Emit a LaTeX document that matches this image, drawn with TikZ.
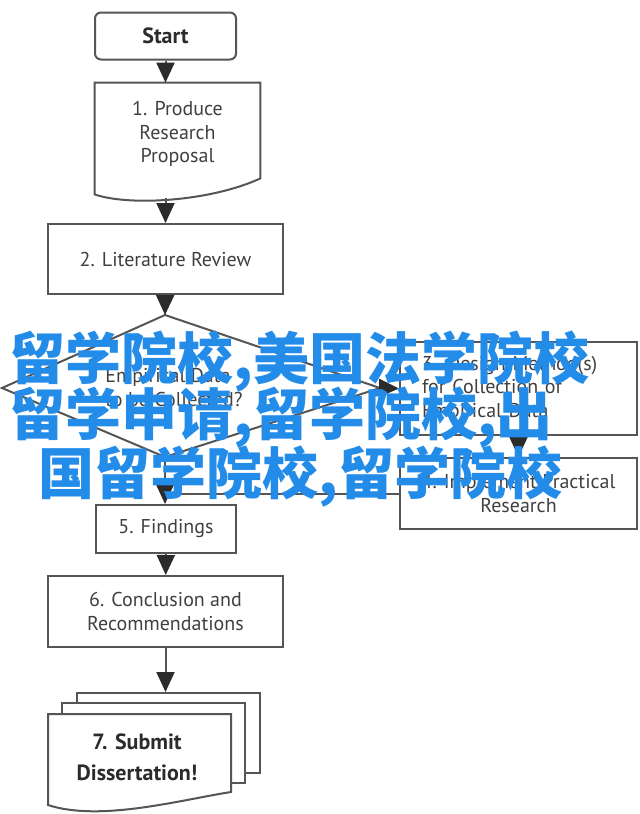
\documentclass[tikz,border=0pt]{standalone}
\usepackage{fontspec}
\setmainfont{PT Sans}
\newfontfamily\cjkfont{Noto Sans CJK SC}
\usetikzlibrary{arrows.meta,calc}
\definecolor{lncol}{HTML}{555555}
\definecolor{tipcol}{HTML}{2B2B2B}
\definecolor{txtcol}{HTML}{404040}
\definecolor{wmblue}{HTML}{238CE8}

\begin{document}
\begin{tikzpicture}[x=0.5pt, y=-0.5pt,
  every node/.style={font=\fontsize{10}{11.8}\selectfont, text=txtcol},
  proc/.style={draw=lncol, line width=1pt, rectangle, align=center, inner sep=3pt},
  se/.style={proc, rounded corners=3pt, text=tipcol,
             font=\bfseries\fontsize{11}{13}\selectfont},
  doc/.style={rectangle, align=center, inner sep=3pt},
  sheet/.style={draw=lncol, line width=1pt, fill=white, rectangle,
                minimum width=91.5pt, minimum height=40pt},
  ln/.style={draw=lncol, line width=1pt},
  ar/.style={ln, -{Triangle[width=9pt,length=10pt,color=tipcol]}},
  wm/.style={anchor=base west, inner sep=0pt, text=wmblue,
             font=\cjkfont\bfseries\fontsize{28}{30}\selectfont}]

\fill[white] (0,0) rectangle (640,814);
\useasboundingbox (0,0) rectangle (640,814);

%% --- left column ---
\node[se]   (STA) at (165.5, 36)  [minimum width=70.5pt, minimum height=23.5pt] {Start};
\node[doc]  (PRO) at (177.5,134)  [minimum width=82.5pt, minimum height=51pt] {1. Produce\\Research\\Proposal};
\draw[ln] ([yshift=-4.5pt]PRO.south west) |- (PRO.north east) -- ([yshift=3.5pt]PRO.south east)
  .. controls +(-25pt,-11.5pt) and +(17.5pt,-6pt) .. ([yshift=-4.5pt]PRO.south west) -- cycle;
\coordinate (PROB) at (165.5,198);
\node[proc] (LIT) at (165.5,259)  [minimum width=117.5pt, minimum height=35pt] {2. Literature Review};

%% --- decision (drawn directly) ---
\coordinate (DT) at (165,315);
\coordinate (DL) at (2,388);
\coordinate (DB) at (165,457);
\coordinate (DR) at (380,388);
\draw[ln] (DT) -- (DR) -- (DB) -- (DL) -- cycle;
\node[doc, align=left, anchor=west] (DEC) at (99,387.5) {Empirical Data\\to be Collected?};

%% --- right column ---
\node[proc, align=left, text width=96.5pt] (DES) at (518.5,388.5)
  [minimum width=118.5pt, minimum height=46.5pt] {3. Design Method(s)\\for Collection of\\Empirical Data};
\node[proc] (IMP) at (518.5,493.5) [minimum width=118.5pt, minimum height=35.5pt] {4. Implement Practical\\Research};

%% --- lower column ---
\node[proc] (FND) at (166,529)    [minimum width=70pt, minimum height=24pt] {5. Findings};
\node[proc] (CON) at (165.5,611.5) [minimum width=117.5pt, minimum height=35.5pt] {6. Conclusion and\\Recommendations};
\node[sheet] (SH3) at (168.5,733) {};
\node[sheet] (SH2) at (153.5,743) {};
\draw[ln, fill=white] (48,805) |- (231,714) -- (231,792)
  .. controls (180,800) and (100,822) .. (48,805) -- cycle;
\node[doc, text=tipcol, font=\bfseries\fontsize{11}{15.5}\selectfont] (SUB) at (137,757.5) {7. Submit\\Dissertation!};

%% --- arrows ---
\draw[ar] (STA) -- (STA |- PRO.north);
\draw[ar] (PROB) -- (LIT);
\draw[ar] (LIT) -- (DT);
\draw[ar] (DR) -- (DES.west);
\draw[ar] (DES) -- (IMP);
\draw[ln] (IMP.west) -- (IMP.west -| DB);
\draw[ar] (DB) -- (DB |- FND.north);
\draw[ar] (FND) -- (CON);
\draw[ar] (CON) -- (CON |- SH3.north);

%% --- overlay text ---
\node[wm] (WM1) at (9,379)  {留学院校,美国法学院校};
\node[wm] (WM2) at (9,435)  {留学申请,留学院校,出};
\node[wm] (WM3) at (38,494) {国留学院校,留学院校};
\end{tikzpicture}
\end{document}
